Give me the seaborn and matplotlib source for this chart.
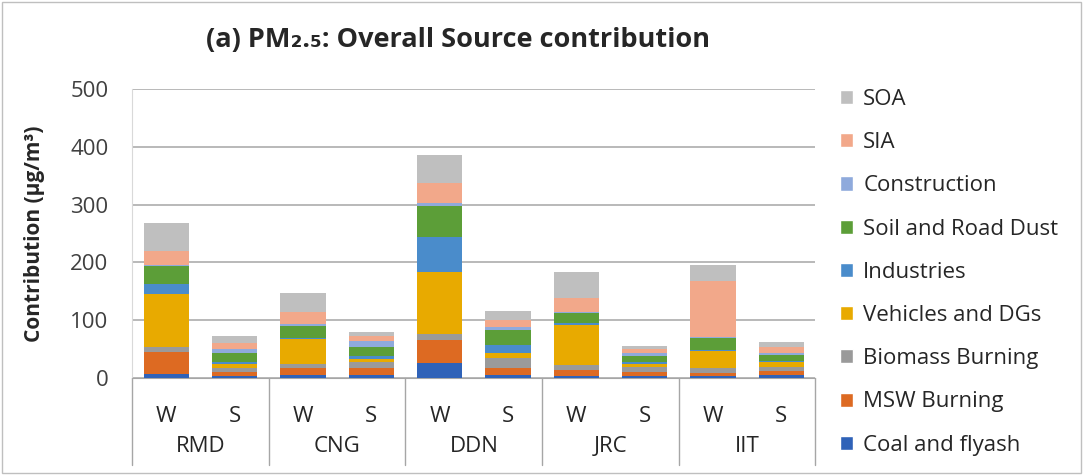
import numpy as np
import pandas as pd
import seaborn as sns
import matplotlib.pyplot as plt
from matplotlib.patches import Patch, Rectangle

# categories
sites = ["RMD", "CNG", "DDN", "JRC", "IIT"]
seasons = ["W", "S"]

# source contributions (ug/m3), one value per bar: RMD W, RMD S, CNG W, ... IIT S
coal = [7, 3, 5, 5, 26, 5, 4, 3, 3, 5]
msw = [38, 7, 13, 12, 39, 12, 10, 7, 6, 8]
biomass = [9, 8, 6, 10, 11, 17, 8, 10, 9, 6]
vehicles = [92, 6, 43, 6, 107, 9, 70, 4, 28, 8]
industries = [17, 4, 3, 5, 61, 14, 3, 3, 2, 3]
soil = [31, 16, 20, 16, 53, 26, 17, 12, 21, 10]
construction = [2, 7, 4, 10, 6, 6, 2, 5, 2, 4]
sia = [24, 10, 20, 8, 34, 11, 24, 6, 96, 10]
soa = [48, 12, 33, 8, 49, 16, 45, 5, 29, 8]

sources = ["Coal and flyash", "MSW Burning", "Biomass Burning", "Vehicles and DGs",
           "Industries", "Soil and Road Dust", "Construction", "SIA", "SOA"]
values = [coal, msw, biomass, vehicles, industries, soil, construction, sia, soa]
colors = ["#2F62B8", "#DD6A22", "#9A9A9A", "#E8AA00", "#4A8CCB",
          "#5C9E38", "#8FAADC", "#F2A88A", "#BFBFBF"]

# plot esthetics
sns.set_style("white")
plt.rcParams["font.family"] = ["Open Sans", "DejaVu Sans"]
font_size = 16

# long table with cumulative heights for stacking
bars = [f"{s} {w}" for s in sites for w in seasons]
df = pd.DataFrame({src: v for src, v in zip(sources, values)}, index=bars)
cum = df.cumsum(axis=1)
long = cum.reset_index().melt(id_vars="index", var_name="Source", value_name="Top")
long = long.rename(columns={"index": "Bar"})

fig = plt.figure(figsize=(10.83, 4.75), dpi=100)
ax = fig.add_axes([0.122, 0.204, 0.631, 0.609])

# draw from top of stack downwards so lower segments cover the upper totals
for src, col in reversed(list(zip(sources, colors))):
    sns.barplot(data=long[long["Source"] == src], x="Bar", y="Top", order=bars,
                color=col, saturation=1, width=0.66, linewidth=0,
                edgecolor="none", ax=ax, zorder=3)

ax.set_ylim(0, 500)
ax.set_xlim(-0.5, len(bars) - 0.5)
ax.set_yticks(range(0, 501, 100))
ax.yaxis.grid(True, color="#A6A6A6", linewidth=1.1, zorder=0)
ax.set_axisbelow(True)
for side in ["top", "right"]:
    ax.spines[side].set_visible(False)
ax.spines["left"].set_color("#D9D9D9")
ax.spines["bottom"].set_color("#A6A6A6")
ax.tick_params(axis="y", length=0, labelsize=font_size, colors="#404040", pad=17)
ax.tick_params(axis="x", length=0, labelsize=font_size, colors="#262626", pad=20)
ax.set_xticks(range(len(bars)))
ax.set_xticklabels([w for s in sites for w in seasons])
ax.set_xlabel("")
ax.set_ylabel("Contribution (µg/m³)", fontsize=15, fontweight="bold", labelpad=18)

# group labels and separators below the axis
trans = ax.get_xaxis_transform()
for i, site in enumerate(sites):
    ax.text(2 * i + 0.5, -0.235, site, transform=trans, ha="center", va="center",
            fontsize=font_size, color="#262626")
for i in range(len(sites) + 1):
    ax.plot([2 * i - 0.5, 2 * i - 0.5], [0, -0.3], transform=trans,
            color="#A6A6A6", linewidth=1, clip_on=False)

fig.text(0.423, 0.915, "(a) PM₂.₅: Overall Source contribution",
         ha="center", va="center", fontsize=19.5, fontweight="bold",
         family=["Open Sans", "DejaVu Sans"])

handles = [Patch(facecolor=c, label=s) for s, c in zip(sources, colors)][::-1]
fig.legend(handles=handles, loc="upper left", bbox_to_anchor=(0.757, 0.855),
           frameon=False, fontsize=font_size, labelspacing=1.0,
           handlelength=0.6, handleheight=0.6, handletextpad=0.45)

fig.patches.append(Rectangle((0.002, 0.004), 0.996, 0.992, transform=fig.transFigure,
                             fill=False, edgecolor="#BFBFBF", linewidth=1))

fig.savefig("out.png", dpi=100)
